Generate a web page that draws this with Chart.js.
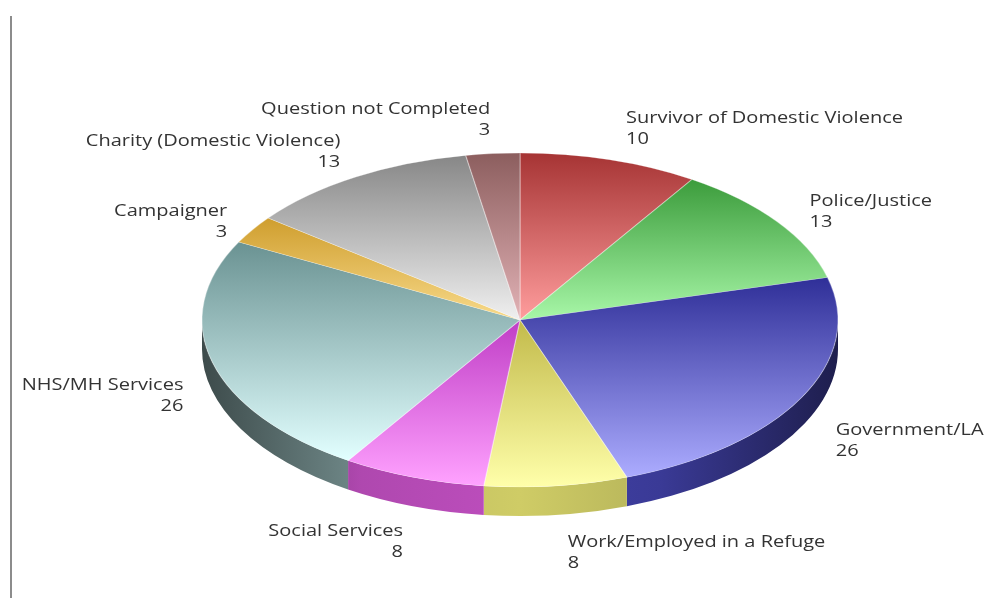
<!DOCTYPE html>
<html>
<head>
<meta charset="utf-8">
<title>Respondents</title>
<script src="https://cdn.jsdelivr.net/npm/chart.js@4.4.1/dist/chart.umd.min.js"></script>
<style>
  html, body { margin: 0; padding: 0; background: #fff; }
  #wrap { position: relative; width: 992px; height: 598px; }
  #axisLine { position: absolute; left: 10px; top: 16px; width: 2px; height: 582px; background: #8c8c8c; }
  canvas { position: absolute; left: 0; top: 0; }
</style>
</head>
<body>
<div id="wrap">
  <div id="axisLine"></div>
  <canvas id="chart" width="992" height="598"></canvas>
</div>
<script>
const labels = [
  'Survivor of Domestic Violence',
  'Police/Justice',
  'Government/LA',
  'Work/Employed in a Refuge',
  'Social Services',
  'NHS/MH Services',
  'Campaigner',
  'Charity (Domestic Violence)',
  'Question not Completed'
];
const counts = [10, 13, 26, 8, 8, 26, 3, 13, 3];

// top face: [dark edge, light edge]
const topColors = [
  ['#a63434', '#ff9d9d'],
  ['#3c9c3c', '#a8f7a8'],
  ['#2f2f98', '#acacff'],
  ['#c2ba4a', '#ffffaa'],
  ['#c03ec6', '#ffa2ff'],
  ['#6a9292', '#e2ffff'],
  ['#cf9e2e', '#f8da8a'],
  ['#878787', '#f0f0f0'],
  ['#8c5e5e', '#e2b2b6']
];
const sideColors = ['#a83a3a', '#48a048', '#4242aa', '#cfcc66', '#be4ebe', '#7a9595', '#d0a232', '#909090', '#906464'];

const PIE_W = 318;   // half width of the top ellipse
const PIE_H = 167;   // half height of the top ellipse
const DEPTH = 29;    // thickness of the side wall
const TEXT_STRETCH = 1.25;

function shade(hex, f) {
  const n = parseInt(hex.slice(1), 16);
  const r = Math.min(255, Math.round(((n >> 16) & 255) * f));
  const g = Math.min(255, Math.round(((n >> 8) & 255) * f));
  const b = Math.min(255, Math.round((n & 255) * f));
  return `rgb(${r},${g},${b})`;
}

// vertical extent of a circular sector
function sectorYRange(cy, r, a0, a1) {
  let ys = [cy, cy + r * Math.sin(a0), cy + r * Math.sin(a1)];
  for (let k = -1; k <= 3; k++) {
    const a = Math.PI / 2 + k * Math.PI;
    if (a > a0 && a < a1) ys.push(cy + r * Math.sin(a));
  }
  return [Math.min(...ys), Math.max(...ys)];
}

const pie3d = {
  id: 'pie3d',
  beforeDatasetsDraw(chart) {
    const ctx = chart.ctx;
    const meta = chart.getDatasetMeta(0);
    const first = meta.data[0];
    const cx = first.x, cy = first.y, r = first.outerRadius;

    // side walls along the front half of the ellipse
    meta.data.forEach((arc, i) => {
      const s = Math.max(arc.startAngle, 0);
      const e = Math.min(arc.endAngle, Math.PI);
      if (e <= s) return;
      const g = ctx.createLinearGradient(cx - PIE_W, 0, cx + PIE_W, 0);
      g.addColorStop(0, shade(sideColors[i], 0.5));
      g.addColorStop(0.25, shade(sideColors[i], 0.92));
      g.addColorStop(0.5, shade(sideColors[i], 1.0));
      g.addColorStop(0.72, shade(sideColors[i], 0.88));
      g.addColorStop(1, shade(sideColors[i], 0.45));
      ctx.beginPath();
      ctx.ellipse(cx, cy, PIE_W, PIE_H, 0, s, e);
      ctx.ellipse(cx, cy + DEPTH, PIE_W, PIE_H, 0, e, s, true);
      ctx.closePath();
      ctx.fillStyle = g;
      ctx.fill();
    });

    // per-slice gradient on the top face
    meta.data.forEach((arc, i) => {
      const [y0, y1] = sectorYRange(cy, r, arc.startAngle, arc.endAngle);
      const g = ctx.createLinearGradient(0, y0, 0, y1);
      g.addColorStop(0, topColors[i][0]);
      g.addColorStop(1, topColors[i][1]);
      arc.options.backgroundColor = g;
    });

    // squash the circle into the tilted ellipse
    ctx.save();
    ctx.translate(cx, cy);
    ctx.scale(PIE_W / r, PIE_H / r);
    ctx.translate(-cx, -cy);
  },
  afterDatasetsDraw(chart) {
    const ctx = chart.ctx;
    ctx.restore();

    const meta = chart.getDatasetMeta(0);
    const ds = chart.data.datasets[0];
    ctx.save();
    ctx.font = '16px "Open Sans", sans-serif';
    ctx.fillStyle = '#333333';
    ctx.textBaseline = 'middle';
    meta.data.forEach((arc, i) => {
      const mid = (arc.startAngle + arc.endAngle) / 2;
      const c = Math.cos(mid), s = Math.sin(mid);
      const right = c >= 0;
      const x = arc.x + (PIE_W + 30) * c + (right ? 8 : 0);
      // labels below the middle sit lower, clear of the side wall
      const dy = s > 0 ? 12 : 1 + 7 * c * c;
      const y = arc.y + (PIE_H + 45) * s + dy;
      ctx.textAlign = right ? 'left' : 'right';
      [chart.data.labels[i], String(ds.data[i])].forEach((t, k) => {
        ctx.save();
        ctx.translate(x, y + k * 21);
        ctx.scale(TEXT_STRETCH, 1);
        ctx.fillText(t, 0, 0);
        ctx.restore();
      });
    });
    ctx.restore();
  }
};

new Chart(document.getElementById('chart'), {
  type: 'pie',
  data: {
    labels,
    datasets: [{
      data: counts,
      backgroundColor: topColors.map(c => c[1]),
      borderColor: 'rgba(255,255,255,0.35)',
      borderWidth: 1,
      clip: false
    }]
  },
  options: {
    responsive: false,
    animation: false,
    events: [],
    layout: { padding: { left: 270, right: 222, top: 70, bottom: 28 } },
    plugins: {
      legend: { display: false },
      tooltip: { enabled: false }
    }
  },
  plugins: [pie3d]
});
</script>
</body>
</html>
